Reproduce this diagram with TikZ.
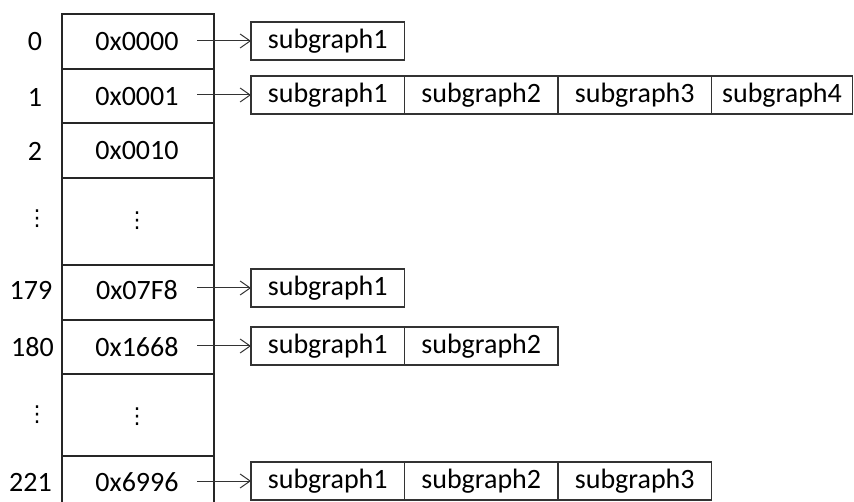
\documentclass[tikz,border=0pt]{standalone}
\usepackage{fontspec}
\setmainfont{Carlito}
\newfontfamily\symfont{DejaVu Sans}
\usetikzlibrary{arrows.meta}
\begin{document}
\begin{tikzpicture}[x=1pt,y=-1pt,
  every node/.style={font=\fontsize{28}{32}\selectfont, inner sep=0pt, outer sep=0pt},
  cell/.style={draw=black!85, line width=1.1pt, minimum width=152pt, anchor=north west},
  idx/.style={anchor=center},
  sg/.style={draw=black!80, line width=1.1pt, minimum width=153.5pt, minimum height=38pt, anchor=west},
  link/.style={draw=black!80, line width=1pt, -{Straight Barb[length=10pt,width=14pt,line width=1pt]}},
  dots/.style={font=\symfont\fontsize{22}{24}\selectfont}
]
\useasboundingbox (0,0) rectangle (854,502);

% table of hash buckets
\node[cell, minimum height=55pt] (c0) at (62,14) {};
\node[cell, minimum height=54pt] (c1) at (62,69) {};
\node[cell, minimum height=55pt] (c2) at (62,123) {};
\node[cell, minimum height=87pt] (c3) at (62,178) {};
\node[cell, minimum height=55pt] (c4) at (62,265) {};
\node[cell, minimum height=54pt] (c5) at (62,320) {};
\node[cell, minimum height=82pt] (c6) at (62,374) {};
\node[cell, minimum height=60pt] (c7) at (62,456) {};

% hash values
\node (h0) at (137,42) {0x0000};
\node (h1) at (137,97) {0x0001};
\node (h2) at (137,151) {0x0010};
\node[dots] (h3) at (137,221) {⋮};
\node (h4) at (137,290) {0x07F8};
\node (h5) at (137,347) {0x1668};
\node[dots] (h6) at (137,417) {⋮};
\node (h7) at (137,482) {0x6996};

% bucket indices
\node[idx] (i0) at (35,42) {0};
\node[idx] (i1) at (35,97) {1};
\node[idx] (i2) at (35,151) {2};
\node[idx,dots] (i3) at (37,219) {⋮};
\node[idx] (i4) at (31,290) {179};
\node[idx] (i5) at (32.5,347) {180};
\node[idx,dots] (i6) at (37,415) {⋮};
\node[idx] (i7) at (30.5,482) {221};

% arrow tails
\coordinate (t0) at (197,41);
\coordinate (t1) at (197,95);
\coordinate (t4) at (197,288);
\coordinate (t5) at (197,346);
\coordinate (t7) at (197,481);

% subgraph lists
\node[sg] (a1) at (251,41) {subgraph1};

\node[sg] (b1) at (251,95) {subgraph1};
\node[sg] (b2) at (b1.east) {subgraph2};
\node[sg] (b3) at (b2.east) {subgraph3};
\node[sg, minimum width=141pt] (b4) at (b3.east) {subgraph4};

\node[sg] (d1) at (251,288) {subgraph1};

\node[sg] (e1) at (251,346) {subgraph1};
\node[sg] (e2) at (e1.east) {subgraph2};

\node[sg] (f1) at (251,481) {subgraph1};
\node[sg] (f2) at (f1.east) {subgraph2};
\node[sg] (f3) at (f2.east) {subgraph3};

% pointers
\draw[link] (t0) -- (a1);
\draw[link] (t1) -- (b1);
\draw[link] (t4) -- (d1);
\draw[link] (t5) -- (e1);
\draw[link] (t7) -- (f1);
\end{tikzpicture}
\end{document}
